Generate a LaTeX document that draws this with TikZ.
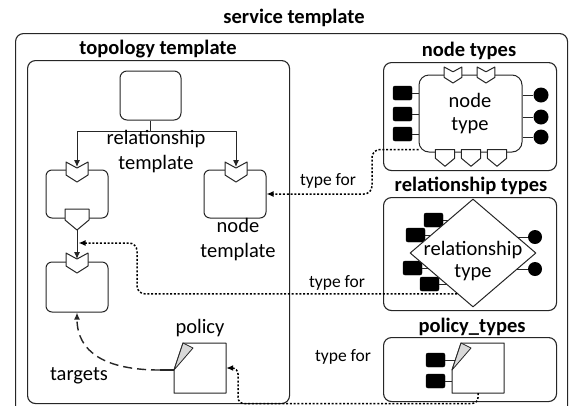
\documentclass[tikz,border=0pt]{standalone}
\usepackage{fontspec}
\setmainfont{Carlito}
\usetikzlibrary{shapes.geometric,arrows.meta,calc}
\tikzset{
  lc/.style={draw=black!85, line width=1pt},
  tbox/.style={lc, line width=1.1pt, rounded corners=8pt, fill=white, inner sep=0pt},
  nbox/.style={lc, rounded corners=6pt, fill=white, inner sep=0pt},
  ttl/.style={font=\fontsize{20.5}{24}\selectfont\bfseries, inner sep=0pt},
  txt/.style={font=\fontsize{20.5}{25}\selectfont, align=center, inner sep=0pt},
  small/.style={font=\fontsize{17.5}{20}\selectfont, inner sep=0pt},
  sqr/.style={draw=black, fill=black, rounded corners=2pt, minimum width=19pt, minimum height=14pt, inner sep=0pt},
  blob/.style={circle, fill=black, minimum size=15pt, inner sep=0pt},
  arr/.style={-{Latex[length=7pt,width=6pt]}},
  dotline/.style={draw=black, line width=1.5pt, dash pattern=on 2pt off 1.8pt},
  dashline/.style={draw=black!85, line width=1.4pt, dash pattern=on 9pt off 5pt},
  req/.pic={\draw[lc, fill=white] (-11,0) -- (0,6) -- (11,0) -- (11,13) -- (0,20) -- (-11,13) -- cycle;},
  capab/.pic={\draw[lc, fill=white] (-12,0) -- (12,0) -- (12,11) -- (0,21) -- (-12,11) -- cycle;},
  polshape/.pic={
    \draw[lc, fill=white] (9,0) -- (52,0) -- (52,50) -- (0,50) -- (0,27) -- cycle;
    \draw[lc, fill=black!15, line width=0.8pt] (0,27) -- (9,0) -- (19,5) -- cycle;}
}
\begin{document}
\begin{tikzpicture}[x=1pt,y=-1pt,line join=round]
\useasboundingbox (0,0) rectangle (569,405);
\clip (0,0) rectangle (569,405);

% titles and frames
\node[ttl] (tst) at (294,18) {service template};
\node[tbox, minimum width=552pt, minimum height=400pt, anchor=north west] (svc) at (15,33) {};
\node[ttl] (ttt) at (158,49) {topology template};
\node[tbox, minimum width=262pt, minimum height=343pt, anchor=north west] (topo) at (27,60) {};
\node[ttl] (tnt) at (469,51) {node types};
\node[tbox, minimum width=173pt, minimum height=108pt, anchor=north west] (ntbox) at (383,62) {};
\node[ttl] (trt) at (471,186) {relationship types};
\node[tbox, minimum width=173pt, minimum height=113pt, anchor=north west] (rtbox) at (383,197) {};
\node[ttl] (tpt) at (472,327) {policy\_types};
\node[tbox, minimum width=173pt, minimum height=64pt, anchor=north west] (ptbox) at (383,337) {};

% topology template contents
\node[nbox, rounded corners=7pt, minimum width=61pt, minimum height=49pt] (rt) at (150.5,95.5) {};
\node[nbox, minimum width=62pt, minimum height=48pt] (nA) at (77,194) {};
\node[nbox, minimum width=62pt, minimum height=50pt] (nB) at (77,287) {};
\node[nbox, minimum width=62pt, minimum height=48pt] (nC) at (235,194) {};
\pic at (77,162) {req};
\pic at (236,162) {req};
\pic at (77,253) {req};
\pic at (77,209) {capab};
\coordinate (rtj) at (150.5,131);
\coordinate (reqA) at (77,167);
\coordinate (reqC) at (236,167);
\coordinate (capA) at (77,230);
\coordinate (reqB) at (77,259);
\draw[lc, arr] (rt.south) -- (rtj) -| (reqA);
\draw[lc, arr] (rtj) -| (reqC);
\draw[lc, arr] (capA) -- (reqB);
\node[txt] (lrt) at (156,152) {relationship\\template};
\node[txt] (lnt) at (238,240) {node\\template};

% policy in topology
\node[inner sep=0pt, minimum width=52pt, minimum height=50pt] (pol) at (200,368) {};
\pic at (174,343) {polshape};
\node[txt] (lpol) at (200,328) {policy};
\coordinate (t0) at (160,370);
\draw[draw=black!85, line width=2pt] (174,370) -- (t0);
\draw[dashline, arr] (t0) .. controls (105,370) and (77,352) .. (nB.south);
\node[txt] (ltg) at (79,376) {targets};

% node type
\node[sqr] (s1) at (402.5,93) {};
\node[sqr] (s2) at (402.5,114) {};
\node[sqr] (s3) at (402.5,134) {};
\node[blob] (c1) at (541,95) {};
\node[blob] (c2) at (541,117) {};
\node[blob] (c3) at (541,137) {};
\node[nbox, rounded corners=10pt, minimum width=103pt, minimum height=77pt] (ntin) at (470.5,113.5) {};
\foreach \s in {s1,s2,s3} \draw[lc] (\s.east) -- (\s.east -| ntin.west);
\foreach \c in {c1,c2,c3} \draw[lc] (ntin.east |- \c) -- (\c);
\pic[scale=0.8] at (453,67) {req};
\pic[scale=0.8] at (486,67) {req};
\pic[scale=0.8] at (445,149.5) {capab};
\pic[scale=0.8] at (471,149.5) {capab};
\pic[scale=0.8] at (497,149.5) {capab};
\node[txt, font=\fontsize{20.5}{23}\selectfont] (lnty) at (470,113.5) {node\\type};

% relationship type
\coordinate (rtc) at (473,253);
\node[sqr] (r1) at (433.5,220) {};
\node[sqr] (r2) at (415.5,235) {};
\node[sqr] (r3) at (412.5,268) {};
\node[sqr] (r4) at (429.5,284) {};
\node[blob, minimum size=14pt] (rc1) at (535,237) {};
\node[blob, minimum size=14pt] (rc2) at (535,269) {};
\foreach \s in {r1,r2,r3,r4} \draw[lc] (\s.east) -- (\s.east -| rtc);
\foreach \c in {rc1,rc2} \draw[lc] (rtc |- \c) -- (\c);
\node[diamond, lc, fill=white, minimum width=126pt, minimum height=108pt, inner sep=0pt] (rtype) at (rtc) {};
\node[txt, font=\fontsize{20.5}{22}\selectfont] (lrty) at (473,261) {relationship\\type};

% policy type
\node[inner sep=0pt, minimum width=52pt, minimum height=50pt] (ptyp) at (478,368) {};
\node[sqr] (p1) at (435.5,360) {};
\node[sqr] (p2) at (435.5,381) {};
\draw[lc] (p1.east) -- ($(p1.east -| ptyp.west)+(5,0)$);
\draw[lc] (p2.east) -- (p2.east -| ptyp.west);
\pic at (452,343) {polshape};

% type-for connectors
\coordinate (b1) at (372,170);
\draw[dotline, arr, rounded corners=8pt] ([yshift=3pt]ntin.south west) -| (b1) |- (nC.east);
\node[small] (tf1) at (328,181) {type for};
\coordinate (b2) at (137,270);
\coordinate (tgt2) at (78.5,243);
\draw[dotline, arr, rounded corners=8pt] ($(rtype.west)!0.75!(rtype.south)$) -| (b2) |- (tgt2);
\node[small] (tf2) at (337,283) {type for};
\coordinate (b3) at (238,403.5);
\draw[dotline, arr, rounded corners=6pt] (ptyp.south) |- (b3) |- (pol.east);
\node[small] (tf3) at (343,357) {type for};
\end{tikzpicture}
\end{document}
